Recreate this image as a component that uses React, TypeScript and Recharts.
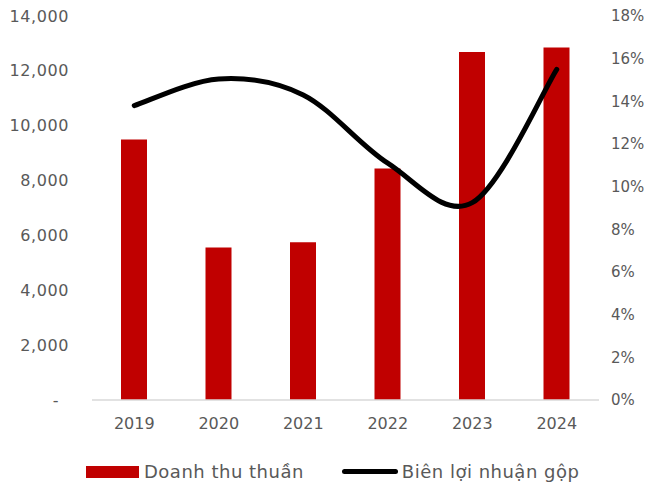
import React from 'react';
import { ComposedChart, Bar, Line, XAxis, YAxis, Legend } from 'recharts';

const years = ['2019', '2020', '2021', '2022', '2023', '2024'];
const revenue = [9500, 5560, 5750, 8440, 12690, 12850];
const grossMargin = [0.138, 0.1505, 0.143, 0.111, 0.0925, 0.155];
const revenueTicks = [0, 2000, 4000, 6000, 8000, 10000, 12000, 14000];
const marginTicks = [0, 0.02, 0.04, 0.06, 0.08, 0.1, 0.12, 0.14, 0.16, 0.18];

const data = years.map((year, i) => ({
  year,
  revenue: revenue[i],
  margin: grossMargin[i],
}));

const FONT = '"DejaVu Sans", sans-serif';
const TEXT = '#595959';
const RED = '#C00000';

// smoothed line in the style of spreadsheet charts (catmull-rom with 1/6 handles)
const smoothCurve = (context: any) => {
  let pts: [number, number][] = [];
  return {
    areaStart() {},
    areaEnd() {},
    lineStart() {
      pts = [];
    },
    point(x: number, y: number) {
      pts.push([+x, +y]);
    },
    lineEnd() {
      if (!pts.length) return;
      context.moveTo(pts[0][0], pts[0][1]);
      for (let i = 0; i < pts.length - 1; i++) {
        const p0 = pts[Math.max(i - 1, 0)];
        const p1 = pts[i];
        const p2 = pts[i + 1];
        const p3 = pts[Math.min(i + 2, pts.length - 1)];
        context.bezierCurveTo(
          p1[0] + (p2[0] - p0[0]) / 6,
          p1[1] + (p2[1] - p0[1]) / 6,
          p2[0] - (p3[0] - p1[0]) / 6,
          p2[1] - (p3[1] - p1[1]) / 6,
          p2[0],
          p2[1]
        );
      }
    },
  };
};

const LeftTick = (props: any) => {
  const { x, y, payload } = props;
  const isZero = payload.value === 0;
  return (
    <text
      x={isZero ? x - 10 : x}
      y={y}
      dy="0.35em"
      textAnchor="end"
      fill={TEXT}
      fontSize={16}
      letterSpacing={0.6}
      fontFamily={FONT}
    >
      {isZero ? '-' : payload.value.toLocaleString('en-US')}
    </text>
  );
};

const LegendContent = () => (
  <div
    style={{
      display: 'flex',
      alignItems: 'center',
      fontFamily: FONT,
      fontSize: 18,
      letterSpacing: 0.5,
      color: TEXT,
    }}
  >
    <div style={{ width: 53, height: 12, background: RED, marginLeft: 86 }} />
    <span style={{ marginLeft: 5 }}>Doanh thu thuần</span>
    <div
      style={{
        width: 56,
        height: 5,
        borderRadius: 3,
        background: '#000',
        marginLeft: 38,
      }}
    />
    <span style={{ marginLeft: 4 }}>Biên lợi nhuận gộp</span>
  </div>
);

export default function App() {
  return (
    <div style={{ position: 'absolute', left: 0, top: 0, width: 650, height: 487 }}>
      <ComposedChart
        width={650}
        height={487}
        data={data}
        margin={{ top: 16, right: 0, bottom: 0, left: 0 }}
      >
        <XAxis
          dataKey="year"
          axisLine={{ stroke: '#d9d9d9', strokeWidth: 1.5 }}
          tickLine={false}
          tickMargin={12}
          height={66}
          tick={{ fill: TEXT, fontSize: 16, fontFamily: FONT }}
        />
        <YAxis
          yAxisId="left"
          width={92}
          domain={[0, 14000]}
          ticks={revenueTicks}
          axisLine={false}
          tickLine={false}
          tickMargin={17}
          tick={<LeftTick />}
        />
        <YAxis
          yAxisId="right"
          orientation="right"
          width={51}
          domain={[0, 0.18]}
          ticks={marginTicks}
          axisLine={false}
          tickLine={false}
          tickMargin={6}
          tickFormatter={(v: number) => `${Math.round(v * 100)}%`}
          tick={{ fill: TEXT, fontSize: 15, fontFamily: FONT, textAnchor: 'start' }}
        />
        <Bar
          yAxisId="left"
          dataKey="revenue"
          name="Doanh thu thuần"
          fill={RED}
          barSize={26}
          isAnimationActive={false}
        />
        <Line
          yAxisId="right"
          dataKey="margin"
          name="Biên lợi nhuận gộp"
          type={smoothCurve as any}
          stroke="#000"
          strokeWidth={5}
          strokeLinecap="round"
          dot={false}
          activeDot={false}
          isAnimationActive={false}
        />
        <Legend
          content={<LegendContent />}
          wrapperStyle={{ top: 461, left: 0, width: 650 }}
        />
      </ComposedChart>
    </div>
  );
}
